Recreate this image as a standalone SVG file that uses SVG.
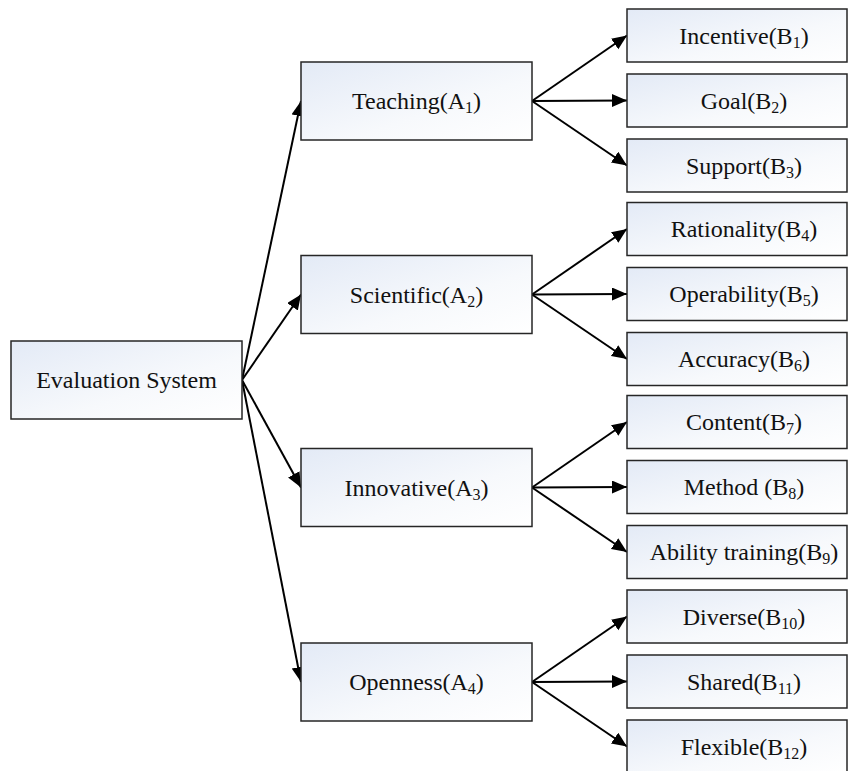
<svg xmlns="http://www.w3.org/2000/svg" width="848" height="771" viewBox="0 0 848 771">
<defs>
<linearGradient id="g" x1="0" y1="0" x2="1" y2="1">
<stop offset="0" stop-color="#e3eaf6"/>
<stop offset="0.6" stop-color="#f7f9fc"/>
<stop offset="1" stop-color="#ffffff"/>
</linearGradient>
<marker id="ah" markerUnits="userSpaceOnUse" markerWidth="16" markerHeight="14" refX="15" refY="6.5" orient="auto">
<path d="M0,0 L15,6.5 L0,13 z" fill="#000"/>
</marker>
<style>
.box{fill:url(#g);stroke:#262626;stroke-width:1.5}
.t{font-family:"Liberation Serif","Times New Roman",serif;font-size:24px;fill:#111;text-anchor:middle}
.s{font-size:16px}
.c line{stroke:#000;stroke-width:2;marker-end:url(#ah)}
</style>
</defs>
<g class="c" id="connectors">
<line x1="242" y1="380" x2="301" y2="101"/>
<line x1="242" y1="380" x2="301" y2="294.5"/>
<line x1="242" y1="380" x2="301" y2="487.5"/>
<line x1="242" y1="380" x2="301" y2="682"/>
<line x1="532" y1="101" x2="627" y2="35.5"/>
<line x1="532" y1="101" x2="627" y2="100.5"/>
<line x1="532" y1="101" x2="627" y2="165.5"/>
<line x1="532" y1="294.5" x2="627" y2="229"/>
<line x1="532" y1="294.5" x2="627" y2="294"/>
<line x1="532" y1="294.5" x2="627" y2="359"/>
<line x1="532" y1="487.5" x2="627" y2="422"/>
<line x1="532" y1="487.5" x2="627" y2="487"/>
<line x1="532" y1="487.5" x2="627" y2="552"/>
<line x1="532" y1="682" x2="627" y2="616.5"/>
<line x1="532" y1="682" x2="627" y2="681.5"/>
<line x1="532" y1="682" x2="627" y2="746.5"/>
</g>
<g id="root"><rect class="box" x="11" y="341" width="231" height="78"/><text class="t" x="126.5" y="388">Evaluation System</text></g>
<g id="A1"><rect class="box" x="301" y="62" width="231" height="78"/><text class="t" x="416.5" y="109">Teaching(A<tspan class="s" dy="4">1</tspan><tspan dy="-4">)</tspan></text></g>
<g id="A2"><rect class="box" x="301" y="255.5" width="231" height="78"/><text class="t" x="416.5" y="302.5">Scientific(A<tspan class="s" dy="4">2</tspan><tspan dy="-4">)</tspan></text></g>
<g id="A3"><rect class="box" x="301" y="448.5" width="231" height="78"/><text class="t" x="416.5" y="495.5">Innovative(A<tspan class="s" dy="4">3</tspan><tspan dy="-4">)</tspan></text></g>
<g id="A4"><rect class="box" x="301" y="643" width="231" height="78"/><text class="t" x="416.5" y="690">Openness(A<tspan class="s" dy="4">4</tspan><tspan dy="-4">)</tspan></text></g>
<g id="B1"><rect class="box" x="627" y="9" width="220" height="53"/><text class="t" x="744" y="43.5">Incentive(B<tspan class="s" dy="4">1</tspan><tspan dy="-4">)</tspan></text></g>
<g id="B2"><rect class="box" x="627" y="74" width="220" height="53"/><text class="t" x="744" y="108.5">Goal(B<tspan class="s" dy="4">2</tspan><tspan dy="-4">)</tspan></text></g>
<g id="B3"><rect class="box" x="627" y="139" width="220" height="53"/><text class="t" x="744" y="173.5">Support(B<tspan class="s" dy="4">3</tspan><tspan dy="-4">)</tspan></text></g>
<g id="B4"><rect class="box" x="627" y="202.5" width="220" height="53"/><text class="t" x="744" y="237">Rationality(B<tspan class="s" dy="4">4</tspan><tspan dy="-4">)</tspan></text></g>
<g id="B5"><rect class="box" x="627" y="267.5" width="220" height="53"/><text class="t" x="744" y="302">Operability(B<tspan class="s" dy="4">5</tspan><tspan dy="-4">)</tspan></text></g>
<g id="B6"><rect class="box" x="627" y="332.5" width="220" height="53"/><text class="t" x="744" y="367">Accuracy(B<tspan class="s" dy="4">6</tspan><tspan dy="-4">)</tspan></text></g>
<g id="B7"><rect class="box" x="627" y="395.5" width="220" height="53"/><text class="t" x="744" y="430">Content(B<tspan class="s" dy="4">7</tspan><tspan dy="-4">)</tspan></text></g>
<g id="B8"><rect class="box" x="627" y="460.5" width="220" height="53"/><text class="t" x="744" y="495">Method (B<tspan class="s" dy="4">8</tspan><tspan dy="-4">)</tspan></text></g>
<g id="B9"><rect class="box" x="627" y="525.5" width="220" height="53"/><text class="t" x="744" y="560">Ability training(B<tspan class="s" dy="4">9</tspan><tspan dy="-4">)</tspan></text></g>
<g id="B10"><rect class="box" x="627" y="590" width="220" height="53"/><text class="t" x="744" y="624.5">Diverse(B<tspan class="s" dy="4">10</tspan><tspan dy="-4">)</tspan></text></g>
<g id="B11"><rect class="box" x="627" y="655" width="220" height="53"/><text class="t" x="744" y="689.5">Shared(B<tspan class="s" dy="4">11</tspan><tspan dy="-4">)</tspan></text></g>
<g id="B12"><rect class="box" x="627" y="720" width="220" height="53"/><text class="t" x="744" y="754.5">Flexible(B<tspan class="s" dy="4">12</tspan><tspan dy="-4">)</tspan></text></g>
</svg>
